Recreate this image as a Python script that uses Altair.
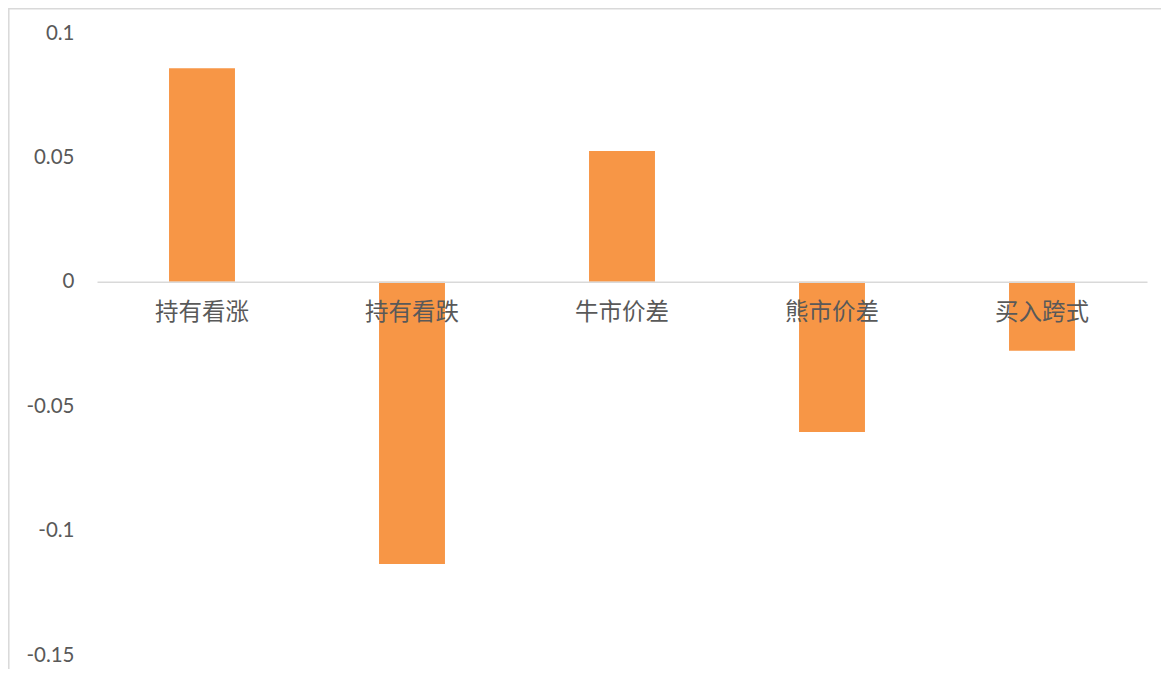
import altair as alt
import pandas as pd

categories = ["持有看涨", "持有看跌", "牛市价差", "熊市价差", "买入跨式"]
values = [0.0858, -0.1134, 0.0526, -0.0604, -0.0277]
y_ticks = [-0.15, -0.1, -0.05, 0, 0.05, 0.1]

df = pd.DataFrame({"cat": categories, "val": values})

W, H = 1050, 622
zero_from_bottom = H * (0.15 / 0.25)

bars = alt.Chart(df).mark_bar(color="#F79646").encode(
    x=alt.X("cat:N", sort=categories, title=None,
            scale=alt.Scale(paddingInner=0.686, paddingOuter=0.343),
            axis=alt.Axis(orient="bottom", offset=-zero_from_bottom, labelAngle=0,
                          domainColor="#d9d9d9", domainWidth=1.5, ticks=False,
                          labelFont="Noto Sans CJK SC", labelFontSize=23.5,
                          labelColor="#595959", labelPadding=19, zindex=1)),
    y=alt.Y("val:Q", title=None,
            scale=alt.Scale(domain=[-0.15, 0.1], nice=False, zero=False),
            axis=alt.Axis(values=y_ticks, grid=False, domain=False, ticks=False,
                          labelExpr="datum.value + ''",
                          labelFont="Lato", labelFontSize=20.5,
                          labelColor="#595959", labelPadding=23)),
)

border = alt.Chart(pd.DataFrame({"k": [0]})).mark_rect(
    fill=None, stroke="#d9d9d9", strokeWidth=1.5
).encode(
    x=alt.value(-88.2), x2=alt.value(W + 80),
    y=alt.value(-24.2), y2=alt.value(H + 80),
)

chart = alt.layer(border, bars).properties(
    width=W, height=H,
    padding={"left": 89, "top": 25, "right": 14, "bottom": 14},
    autosize=alt.AutoSizeParams(type="none"),
).configure_view(stroke=None)

chart.save("out.html", embed_options={"renderer": "svg", "actions": False})
